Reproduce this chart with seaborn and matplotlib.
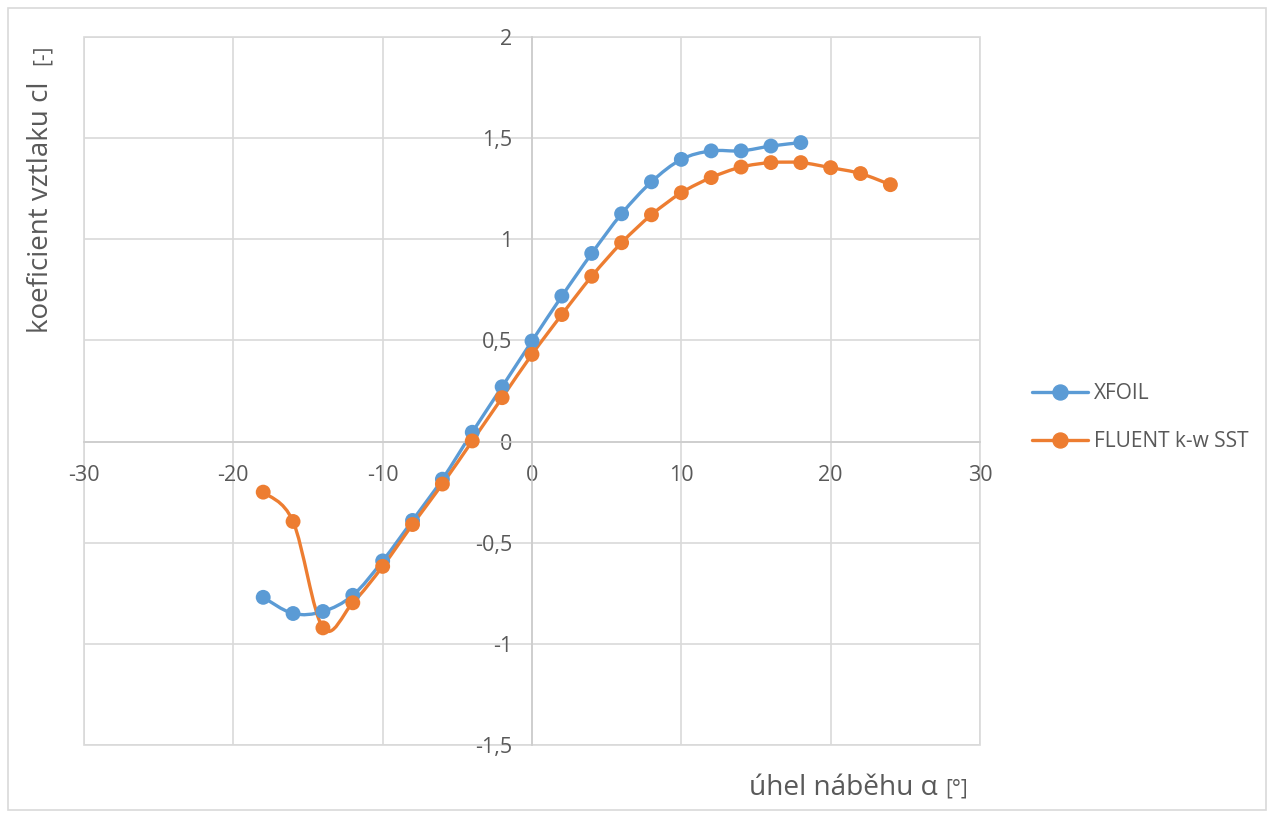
import numpy as np
import pandas as pd
import matplotlib
matplotlib.use("Agg")
import matplotlib.pyplot as plt
import seaborn as sns
from matplotlib.path import Path
from matplotlib.patches import PathPatch, Rectangle
from matplotlib.lines import Line2D
from matplotlib.ticker import FuncFormatter

# ---- data ----
alpha_xfoil = [-18, -16, -14, -12, -10, -8, -6, -4, -2, 0, 2, 4, 6, 8, 10, 12, 14, 16, 18]
cl_xfoil = [-0.77, -0.85, -0.84, -0.76, -0.59, -0.39, -0.186, 0.046, 0.271, 0.497, 0.719,
            0.93, 1.126, 1.284, 1.395, 1.437, 1.437, 1.461, 1.478]
alpha_fluent = [-18, -16, -14, -12, -10, -8, -6, -4, -2, 0, 2, 4, 6, 8, 10, 12, 14, 16, 18,
                20, 22, 24]
cl_fluent = [-0.25, -0.395, -0.921, -0.797, -0.617, -0.41, -0.21, 0.003, 0.217, 0.431, 0.628,
             0.817, 0.983, 1.121, 1.23, 1.305, 1.357, 1.379, 1.379, 1.354, 1.325, 1.27]
series_names = ["XFOIL", "FLUENT k-w SST"]
x_ticks = [-30, -20, -10, 0, 10, 20, 30]
y_ticks = [-1.5, -1, -0.5, 0, 0.5, 1, 1.5, 2]

colors = {"XFOIL": "#5B9BD5", "FLUENT k-w SST": "#ED7D31"}
grid_c = "#d9d9d9"
text_c = "#595959"

df = pd.concat([
    pd.DataFrame({"alpha": alpha_xfoil, "cl": cl_xfoil, "series": series_names[0]}),
    pd.DataFrame({"alpha": alpha_fluent, "cl": cl_fluent, "series": series_names[1]}),
], ignore_index=True)

sns.set_theme(style="white")
plt.rcParams["font.family"] = ["Open Sans", "DejaVu Sans"]

W, H = 1274, 818
fig = plt.figure(figsize=(W / 100, H / 100), dpi=100)
ax = fig.add_axes([84 / W, 1 - 745 / H, (980 - 84) / W, (745 - 37) / H])


def smooth_path(xs, ys):
    # Excel-style smoothed line: cubic Bezier through the data points
    P = np.column_stack([xs, ys]).astype(float)
    n = len(P)
    verts = [P[0]]
    codes = [Path.MOVETO]
    for i in range(n - 1):
        p0 = P[i - 1] if i > 0 else P[i]
        p1 = P[i]
        p2 = P[i + 1]
        p3 = P[i + 2] if i + 2 < n else P[i + 1]
        c1 = p1 + (p2 - p0) / 6.0
        c2 = p2 - (p3 - p1) / 6.0
        verts += [c1, c2, p2]
        codes += [Path.CURVE4] * 3
    return Path(verts, codes)


for name, xs, ys in [(series_names[0], alpha_xfoil, cl_xfoil),
                     (series_names[1], alpha_fluent, cl_fluent)]:
    patch = PathPatch(smooth_path(xs, ys), facecolor="none", edgecolor=colors[name],
                      lw=2.4, zorder=2, capstyle="round", joinstyle="round")
    ax.add_patch(patch)

sns.scatterplot(data=df, x="alpha", y="cl", hue="series", palette=colors, s=115,
                edgecolor="none", linewidth=0, zorder=3, legend=False, ax=ax)

ax.set_xlim(-30, 30)
ax.set_ylim(-1.5, 2)
ax.set_xticks(x_ticks)
ax.set_yticks(y_ticks)

fmt = FuncFormatter(lambda v, p: ("%g" % v).replace(".", ","))
ax.xaxis.set_major_formatter(fmt)
ax.yaxis.set_major_formatter(fmt)

ax.grid(True, color=grid_c, lw=1.2)
ax.set_axisbelow(True)
for s in ["top", "right"]:
    ax.spines[s].set_visible(False)
for s in ["left", "bottom"]:
    ax.spines[s].set_position(("data", 0))
    ax.spines[s].set_color("#cccccc")
    ax.spines[s].set_linewidth(1.2)
ax.patch.set_edgecolor(grid_c)
ax.patch.set_linewidth(1.2)

ax.tick_params(axis="both", length=0, labelsize=15.5, labelcolor=text_c)
ax.tick_params(axis="y", pad=14)
ax.tick_params(axis="x", pad=17)
ax.set_xlabel("")
ax.set_ylabel("")

# axis titles (bracket parts in a smaller size, like the original)
fig.text(749 / W, 1 - 795 / H, "úhel náběhu α", fontsize=20.2, color=text_c,
         ha="left", va="baseline")
fig.text(968 / W, 1 - 795 / H, "[°]", fontsize=15, color=text_c,
         ha="right", va="baseline")
fig.text(48 / W, 1 - 333 / H, "koeficient vztlaku cl", fontsize=20, color=text_c,
         rotation=90, rotation_mode="anchor", ha="left", va="baseline")
fig.text(48 / W, 1 - 45 / H, "[-]", fontsize=15, color=text_c,
         rotation=90, rotation_mode="anchor", ha="right", va="baseline")

handles = [Line2D([0], [0], color=colors[n], lw=2.4, marker="o", markersize=10.8)
           for n in series_names]
leg = fig.legend(handles, series_names, loc="center left",
                 bbox_to_anchor=(1024 / W, 1 - 417.5 / H), frameon=False,
                 borderaxespad=0, fontsize=15, handlelength=2.65, labelspacing=1.3,
                 handletextpad=0.3)
for t in leg.get_texts():
    t.set_color(text_c)

fig.patches.append(Rectangle((8 / W, 8 / H), 1258 / W, 802 / H,
                             transform=fig.transFigure, fill=False,
                             edgecolor=grid_c, lw=1.2))

fig.savefig("out.png", dpi=100, facecolor="white")
